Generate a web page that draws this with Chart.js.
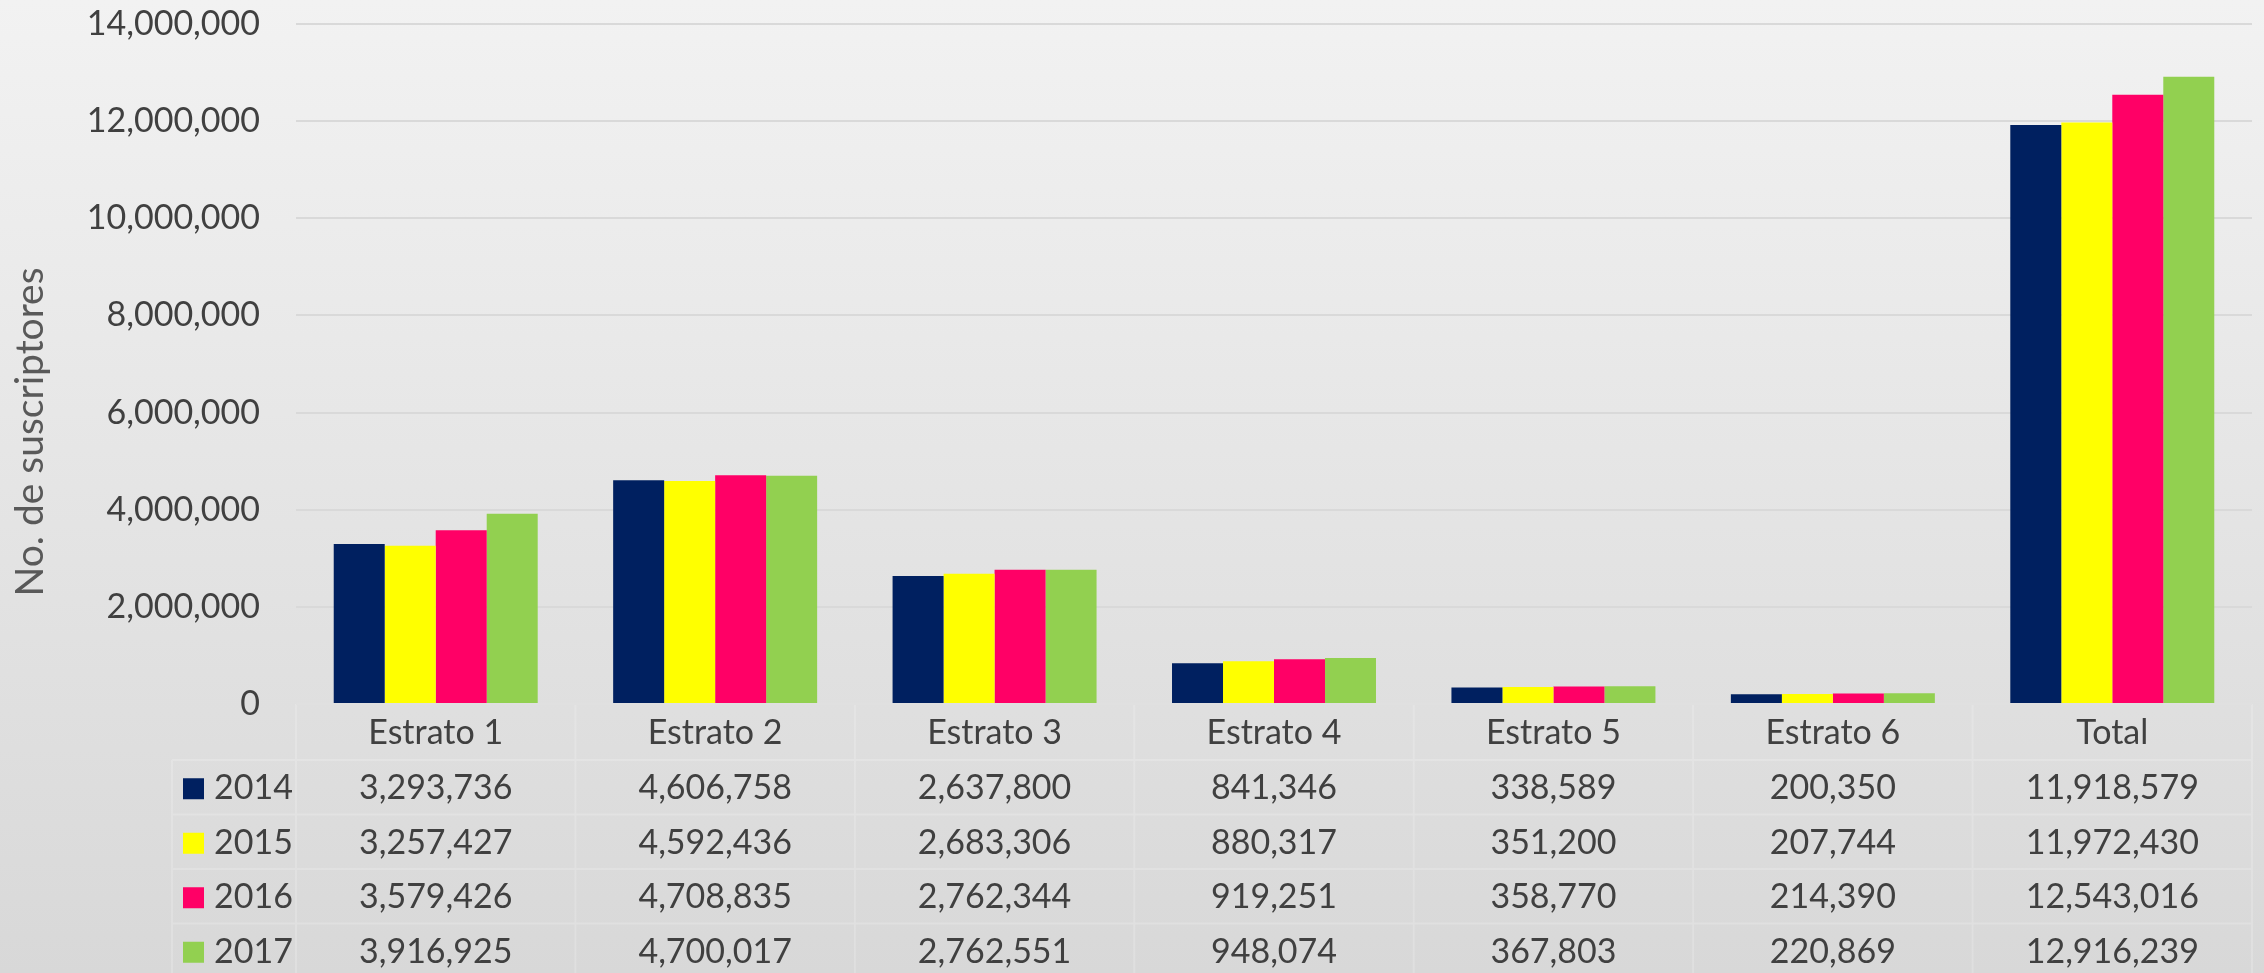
<!DOCTYPE html>
<html>
<head>
<meta charset="utf-8">
<script src="https://cdn.jsdelivr.net/npm/chart.js@4.4.0/dist/chart.umd.min.js"></script>
<style>
  html, body { margin: 0; padding: 0; background: #e6e6e6; }
  #wrap { width: 2264px; height: 973px; position: relative; }
</style>
</head>
<body>
<div id="wrap"><canvas id="myChart"></canvas></div>
<script>
const categories = ['Estrato 1', 'Estrato 2', 'Estrato 3', 'Estrato 4', 'Estrato 5', 'Estrato 6', 'Total'];
const years = ['2014', '2015', '2016', '2017'];
const data2014 = [3293736, 4606758, 2637800, 841346, 338589, 200350, 11918579];
const data2015 = [3257427, 4592436, 2683306, 880317, 351200, 207744, 11972430];
const data2016 = [3579426, 4708835, 2762344, 919251, 358770, 214390, 12543016];
const data2017 = [3916925, 4700017, 2762551, 948074, 367803, 220869, 12916239];
const yearColors = ['#002060', '#FFFF00', '#FF0066', '#92D050'];
const yTitle = 'No. de suscriptores';

const FONT = 'Lato';
const fmt = v => Number(v).toLocaleString('en-US');
const allSeries = [data2014, data2015, data2016, data2017];

// gradient background behind everything
const bgPlugin = {
    id: 'bg',
    beforeDraw(chart) {
        const ctx = chart.ctx;
        const g = ctx.createLinearGradient(0, 0, 0, chart.height);
        g.addColorStop(0, '#f2f2f2');
        g.addColorStop(1, '#d8d8d8');
        ctx.save();
        ctx.fillStyle = g;
        ctx.fillRect(0, 0, chart.width, chart.height);
        ctx.restore();
    }
};

// axis title sits a bit lower than the plot middle, like excel
const titlePlugin = {
    id: 'yTitle',
    afterDraw(chart) {
        const ctx = chart.ctx;
        ctx.save();
        ctx.translate(30, 432);
        ctx.rotate(-Math.PI / 2);
        ctx.fillStyle = '#595959';
        ctx.font = '39px ' + FONT;
        ctx.textAlign = 'center';
        ctx.textBaseline = 'middle';
        ctx.fillText(yTitle, 0, 0);
        ctx.restore();
    }
};

// excel style data table under the plot
const tablePlugin = {
    id: 'dataTable',
    afterDraw(chart) {
        const ctx = chart.ctx;
        const area = chart.chartArea;
        const xs = chart.scales.x;
        const top = area.bottom;
        const headH = 56;
        const rowH = 54.5;
        const colW = (area.right - area.left) / categories.length;
        const legLeft = 172;
        ctx.save();
        ctx.strokeStyle = 'rgba(255,255,255,0.18)';
        ctx.lineWidth = 2;
        ctx.beginPath();
        ctx.moveTo(area.left, top); ctx.lineTo(area.right, top);
        for (let i = 0; i <= years.length; i++) {
            const y = top + headH + rowH * i;
            ctx.moveTo(legLeft, y); ctx.lineTo(area.right, y);
        }
        for (let c = 0; c <= categories.length; c++) {
            const x = area.left + colW * c;
            ctx.moveTo(x, top); ctx.lineTo(x, chart.height);
        }
        ctx.moveTo(legLeft, top + headH); ctx.lineTo(legLeft, chart.height);
        ctx.stroke();

        ctx.fillStyle = '#404040';
        ctx.font = '34px ' + FONT;
        ctx.textAlign = 'center';
        ctx.textBaseline = 'middle';
        categories.forEach((c, i) => {
            ctx.fillText(c, xs.getPixelForValue(i), top + headH / 2 + 1);
        });
        years.forEach((yr, r) => {
            const yc = top + headH + rowH * r + rowH / 2 + 1;
            ctx.fillStyle = yearColors[r];
            ctx.fillRect(183, yc - 10, 21, 21);
            ctx.fillStyle = '#404040';
            ctx.textAlign = 'left';
            ctx.fillText(yr, 214, yc);
            ctx.textAlign = 'center';
            allSeries[r].forEach((v, i) => {
                ctx.fillText(fmt(v), xs.getPixelForValue(i), yc);
            });
        });
        ctx.restore();
    }
};

const actx = document.getElementById('myChart');
new Chart(actx, {
    type: 'bar',
    data: {
        labels: categories,
        datasets: years.map((yr, i) => ({
            label: yr,
            data: allSeries[i],
            backgroundColor: yearColors[i],
            borderWidth: 0,
            categoryPercentage: 0.73,
            barPercentage: 1.0
        }))
    },
    options: {
        responsive: true,
        maintainAspectRatio: false,
        animation: false,
        layout: { padding: { top: 0, right: 12, bottom: 269, left: 0 } },
        plugins: {
            legend: { display: false },
            tooltip: { enabled: false }
        },
        scales: {
            x: { display: false },
            y: {
                min: 0,
                max: 14000000,
                border: { display: false },
                grid: { color: '#d9d9d9', lineWidth: 2, drawTicks: false },
                ticks: {
                    stepSize: 2000000,
                    color: '#404040',
                    padding: 36,
                    font: { family: FONT, size: 34 },
                    callback: v => fmt(v)
                },
                afterFit(scale) {
                    scale.width = 296;
                    scale.paddingTop = 24;
                }
            }
        }
    },
    plugins: [bgPlugin, tablePlugin, titlePlugin]
});
</script>
</body>
</html>
